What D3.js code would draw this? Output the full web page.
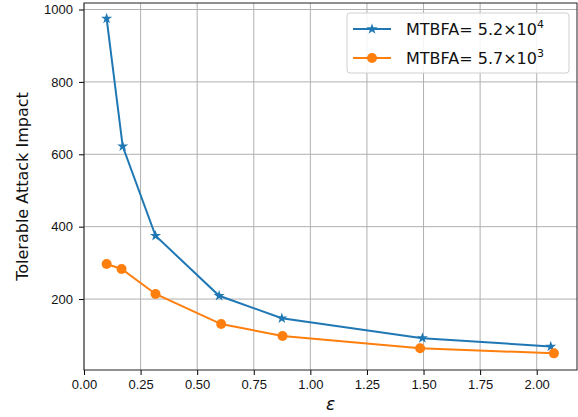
<!DOCTYPE html>
<html>
<head>
<meta charset="utf-8">
<script src="https://cdn.jsdelivr.net/npm/d3@7"></script>
<style>
  body { margin: 0; background: #fff; }
  svg { font-family: "DejaVu Sans", sans-serif; }
</style>
</head>
<body>
<svg id="chart" width="578" height="417"></svg>
<script>
// Data
const epsA = [0.100, 0.171, 0.316, 0.597, 0.874, 1.495, 2.062];
const impactA = [975, 622, 375, 209, 147, 92, 69];
const epsB = [0.100, 0.166, 0.316, 0.606, 0.877, 1.485, 2.076];
const impactB = [297, 283, 214, 131, 98, 64, 50];
const xTicks = [0, 0.25, 0.5, 0.75, 1.0, 1.25, 1.5, 1.75, 2.0];
const yTicks = [200, 400, 600, 800, 1000];

const svg = d3.select("#chart");
const margin = { left: 84, right: 1, top: 3, bottom: 47 };
const W = 578, H = 417;

const x = d3.scaleLinear().domain([0, 2.178]).range([margin.left, W - margin.right]);
const y = d3.scaleLinear().domain([4, 1018]).range([H - margin.bottom, margin.top]);

// grid
svg.append("g").selectAll("line").data(xTicks).join("line")
    .attr("x1", d => x(d)).attr("x2", d => x(d))
    .attr("y1", y.range()[0]).attr("y2", y.range()[1])
    .attr("stroke", "#b0b0b0").attr("stroke-width", 1);
svg.append("g").selectAll("line").data(yTicks).join("line")
    .attr("y1", d => y(d)).attr("y2", d => y(d))
    .attr("x1", x.range()[0]).attr("x2", x.range()[1])
    .attr("stroke", "#b0b0b0").attr("stroke-width", 1);

// axes
const xAxis = d3.axisBottom(x).tickValues(xTicks).tickFormat(d3.format(".2f")).tickSize(5).tickPadding(5);
const yAxis = d3.axisLeft(y).tickValues(yTicks).tickFormat(d3.format("d")).tickSize(5).tickPadding(6);

svg.append("g").attr("transform", `translate(0,${y.range()[0]})`).call(xAxis)
    .call(g => g.select(".domain").remove())
    .selectAll("text").attr("font-size", 13).attr("fill", "#111");
svg.append("g").attr("transform", `translate(${x.range()[0]},0)`).call(yAxis)
    .call(g => g.select(".domain").remove())
    .selectAll("text").attr("font-size", 13).attr("fill", "#111");

// frame
svg.append("rect")
    .attr("x", x.range()[0]).attr("y", y.range()[1])
    .attr("width", x.range()[1] - x.range()[0])
    .attr("height", y.range()[0] - y.range()[1])
    .attr("fill", "none").attr("stroke", "#222").attr("stroke-width", 1);

// series
const line = d3.line().x(d => x(d[0])).y(d => y(d[1]));
const seriesA = epsA.map((e, i) => [e, impactA[i]]);
const seriesB = epsB.map((e, i) => [e, impactB[i]]);
const blue = "#1f77b4", orange = "#ff7f0e";
const star = d3.symbol().type(d3.symbolStar).size(38);

svg.append("path").datum(seriesA).attr("d", line)
    .attr("fill", "none").attr("stroke", blue).attr("stroke-width", 2);
svg.append("g").selectAll("path").data(seriesA).join("path")
    .attr("d", star)
    .attr("transform", d => `translate(${x(d[0])},${y(d[1])})`)
    .attr("fill", blue);

svg.append("path").datum(seriesB).attr("d", line)
    .attr("fill", "none").attr("stroke", orange).attr("stroke-width", 2);
svg.append("g").selectAll("circle").data(seriesB).join("circle")
    .attr("cx", d => x(d[0])).attr("cy", d => y(d[1])).attr("r", 5)
    .attr("fill", orange);

// axis labels
svg.append("text")
    .attr("transform", `translate(28,${(y.range()[0] + y.range()[1]) / 2}) rotate(-90)`)
    .attr("text-anchor", "middle").attr("font-size", 16).attr("fill", "#111")
    .text("Tolerable Attack Impact");
svg.append("text")
    .attr("x", (x.range()[0] + x.range()[1]) / 2).attr("y", 410)
    .attr("text-anchor", "middle").attr("font-size", 17).attr("font-style", "italic")
    .attr("fill", "#111").text("ε");

// legend
const lg = svg.append("g");
lg.append("rect").attr("x", 347).attr("y", 13).attr("width", 222).attr("height", 60)
    .attr("rx", 3).attr("fill", "white").attr("fill-opacity", 0.85)
    .attr("stroke", "#d0d0d0");
const entries = [
    { color: blue, mark: "star", base: "5.2", exp: "4", yy: 29 },
    { color: orange, mark: "circle", base: "5.7", exp: "3", yy: 58 }
];
entries.forEach(e => {
    lg.append("line").attr("x1", 353).attr("x2", 391).attr("y1", e.yy).attr("y2", e.yy)
        .attr("stroke", e.color).attr("stroke-width", 2);
    if (e.mark === "star") {
        lg.append("path").attr("d", star).attr("transform", `translate(372,${e.yy})`).attr("fill", e.color);
    } else {
        lg.append("circle").attr("cx", 372).attr("cy", e.yy).attr("r", 5).attr("fill", e.color);
    }
    const t = lg.append("text").attr("x", 406).attr("y", e.yy + 6).attr("font-size", 16).attr("fill", "#111");
    t.append("tspan").text(`MTBFA= ${e.base}×10`);
    t.append("tspan").attr("dy", -7).attr("font-size", 11).text(e.exp);
});
</script>
</body>
</html>
